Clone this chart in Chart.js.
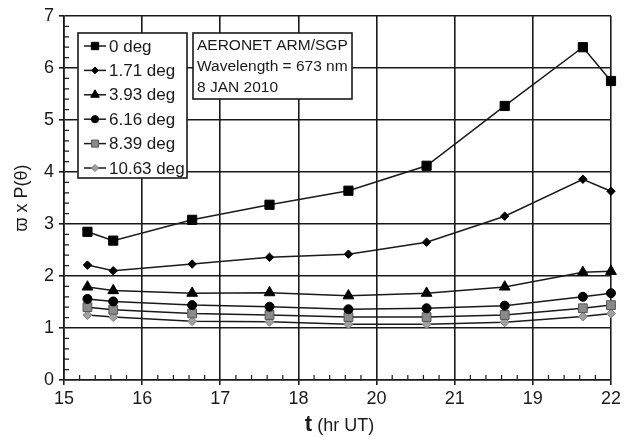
<!DOCTYPE html>
<html>
<head>
<meta charset="utf-8">
<script src="https://cdn.jsdelivr.net/npm/chart.js@4.4.0/dist/chart.umd.min.js"></script>
<style>
  html, body { margin: 0; padding: 0; background: #fff; }
  #wrap { width: 624px; height: 437px; }
</style>
</head>
<body>
<div id="wrap"><canvas id="chartPhase"></canvas></div>
<script>
// time of each measurement (hr UT)
var hours = [15.30, 15.63, 16.64, 17.63, 18.64, 19.64, 20.64, 21.64, 22.0];
// x tick labels as printed on the original axis
var xTickLabels = ['15', '16', '17', '18', '20', '21', '19', '22'];

var deg0 = [2.85, 2.68, 3.08, 3.37, 3.64, 4.12, 5.27, 6.40, 5.75];
var deg171 = [2.21, 2.10, 2.23, 2.36, 2.42, 2.65, 3.15, 3.86, 3.63];
var deg393 = [1.79, 1.72, 1.67, 1.68, 1.62, 1.67, 1.79, 2.07, 2.09];
var deg616 = [1.56, 1.51, 1.44, 1.41, 1.36, 1.38, 1.43, 1.60, 1.67];
var deg839 = [1.40, 1.35, 1.28, 1.25, 1.21, 1.21, 1.25, 1.38, 1.44];
var deg1063 = [1.25, 1.21, 1.13, 1.12, 1.07, 1.07, 1.11, 1.22, 1.28];

var seriesLabels = ['0 deg', '1.71 deg', '3.93 deg', '6.16 deg', '8.39 deg', '10.63 deg'];
var infoLines = ['AERONET ARM/SGP', 'Wavelength = 673 nm', '8 JAN 2010'];

var FONT = "'Liberation Sans', Arial, sans-serif";
var INK = '#1a1a1a';

function pts(vals) {
    return vals.map(function (v, i) { return { x: hours[i], y: v }; });
}

function makeSet(label, vals, style, radius, fill, border) {
    return {
        label: label,
        data: pts(vals),
        borderColor: INK,
        borderWidth: 1.5,
        pointStyle: style,
        pointRadius: radius,
        pointHoverRadius: radius,
        pointBackgroundColor: fill,
        pointBorderColor: border,
        pointBorderWidth: 1,
        tension: 0,
        clip: false
    };
}

// minor ticks, x title, legend box and info box
var extras = {
    id: 'extras',
    beforeDatasetsDraw: function (chart) {
        var ctx = chart.ctx, a = chart.chartArea;
        var xs = chart.scales.x, ys = chart.scales.y;
        ctx.save();
        ctx.strokeStyle = INK;
        ctx.lineWidth = 1.2;
        ctx.beginPath();
        for (var i = 0; i <= 35; i++) {
            if (i % 5 === 0) continue;
            var px = xs.getPixelForValue(15 + i * 0.2);
            ctx.moveTo(px, a.bottom);
            ctx.lineTo(px, a.bottom - 5);
        }
        for (var j = 0; j <= 35; j++) {
            if (j % 5 === 0) continue;
            var py = ys.getPixelForValue(j * 0.2);
            ctx.moveTo(a.left, py);
            ctx.lineTo(a.left + 5, py);
        }
        ctx.stroke();

        // x axis title: bold "t" then "(hr UT)"
        ctx.fillStyle = INK;
        ctx.textBaseline = 'alphabetic';
        var f1 = 'bold 22px ' + FONT, f2 = '18px ' + FONT;
        ctx.font = f1;
        var w1 = ctx.measureText('t').width;
        ctx.font = f2;
        var w2 = ctx.measureText(' (hr UT)').width;
        var cx = (a.left + a.right) / 2 + 2;
        var sx = cx - (w1 + w2) / 2;
        ctx.font = f1;
        ctx.fillText('t', sx, 431);
        ctx.font = f2;
        ctx.fillText(' (hr UT)', sx + w1, 431);
        ctx.restore();
    },
    afterDatasetsDraw: function (chart) {
        var ctx = chart.ctx;
        ctx.save();
        // legend box
        ctx.fillStyle = '#fff';
        ctx.strokeStyle = INK;
        ctx.lineWidth = 1.6;
        ctx.fillRect(78, 33, 109, 145);
        ctx.strokeRect(78, 33, 109, 145);
        ctx.font = '17px ' + FONT;
        ctx.textBaseline = 'middle';
        chart.data.datasets.forEach(function (ds, i) {
            var y = 46 + i * 24.4;
            ctx.strokeStyle = INK;
            ctx.lineWidth = 1.5;
            ctx.beginPath();
            ctx.moveTo(84, y);
            ctx.lineTo(106, y);
            ctx.stroke();
            ctx.fillStyle = ds.pointBackgroundColor;
            ctx.strokeStyle = ds.pointBorderColor;
            ctx.lineWidth = 1;
            Chart.helpers.drawPoint(ctx, {
                pointStyle: ds.pointStyle,
                radius: ds.pointRadius * 0.8,
                borderWidth: 1,
                rotation: 0
            }, 95, y);
            ctx.fillStyle = INK;
            ctx.fillText(ds.label, 109, y + 1);
        });

        // info box
        ctx.fillStyle = '#fff';
        ctx.strokeStyle = INK;
        ctx.lineWidth = 1.6;
        ctx.fillRect(193, 33, 159, 66);
        ctx.strokeRect(193, 33, 159, 66);
        ctx.fillStyle = INK;
        ctx.font = '15.5px ' + FONT;
        infoLines.forEach(function (t, i) {
            ctx.fillText(t, 197, 46 + i * 21);
        });
        ctx.restore();
    }
};

const ctxPhase = document.getElementById('chartPhase');
new Chart(ctxPhase, {
    type: 'line',
    data: {
        datasets: [
            makeSet(seriesLabels[0], deg0, 'rect', 6.5, '#000', '#000'),
            makeSet(seriesLabels[1], deg171, 'rectRot', 4.2, '#000', '#000'),
            makeSet(seriesLabels[2], deg393, 'triangle', 6.2, '#000', '#000'),
            makeSet(seriesLabels[3], deg616, 'circle', 4.5, '#000', '#000'),
            makeSet(seriesLabels[4], deg839, 'rect', 6.2, '#8a8a8a', '#555'),
            makeSet(seriesLabels[5], deg1063, 'rectRot', 4.5, '#a0a0a0', '#808080')
        ]
    },
    options: {
        responsive: true,
        maintainAspectRatio: false,
        animation: false,
        events: [],
        layout: {
            padding: { top: 16, right: 10, bottom: 0, left: 0 }
        },
        plugins: {
            legend: { display: false },
            tooltip: { enabled: false }
        },
        scales: {
            x: {
                type: 'linear',
                min: 15,
                max: 22,
                afterBuildTicks: function (s) {
                    s.ticks = xTickLabels.map(function (l, i) { return { value: 15 + i }; });
                },
                afterFit: function (s) { s.height = 57; },
                ticks: {
                    color: INK,
                    font: { family: FONT, size: 18 },
                    padding: 3,
                    maxRotation: 0,
                    callback: function (v, i) { return xTickLabels[i]; }
                },
                grid: { color: INK, lineWidth: 1.6, tickLength: 5 },
                border: { color: INK, width: 1.6 }
            },
            y: {
                min: 0,
                max: 7,
                afterFit: function (s) { s.width = 64; },
                ticks: {
                    stepSize: 1,
                    color: INK,
                    font: { family: FONT, size: 18 },
                    padding: 5
                },
                grid: { color: INK, lineWidth: 1.6, tickLength: 5 },
                border: { color: INK, width: 1.6 },
                title: {
                    display: true,
                    text: 'ϖ x P(θ)',
                    color: INK,
                    font: { family: FONT, size: 18 },
                    padding: { top: 11, bottom: 0 }
                }
            }
        }
    },
    plugins: [extras]
});
</script>
</body>
</html>
